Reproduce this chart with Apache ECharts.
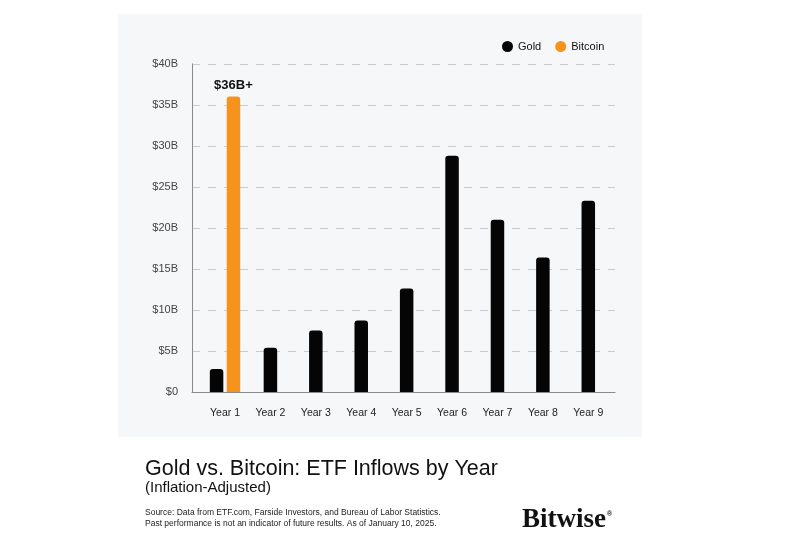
<!DOCTYPE html>
<html>
<head>
<meta charset="utf-8">
<script src="https://cdn.jsdelivr.net/npm/echarts@6/dist/echarts.min.js"></script>
<style>
html,body{margin:0;padding:0;background:#ffffff;}
#chart{width:800px;height:552px;}
</style>
</head>
<body>
<div id="chart"></div>
<script>
var categories = ['Year 1','Year 2','Year 3','Year 4','Year 5','Year 6','Year 7','Year 8','Year 9'];
var goldValues = [2.8, 5.4, 7.5, 8.7, 12.6, 28.8, 21.0, 16.4, 23.3];
var bitcoinValues = [36, null, null, null, null, null, null, null, null];
var yTickLabels = ['$0','$5B','$10B','$15B','$20B','$25B','$30B','$35B','$40B'];
var yMax = 40, yStep = 5;

var goldSingle = goldValues.map(function(v,i){ return bitcoinValues[i] == null ? v : null; });
var goldPaired = goldValues.map(function(v,i){ return bitcoinValues[i] != null ? v : null; });

var FONT = '"Liberation Sans", Arial, sans-serif';
var chart = echarts.init(document.getElementById('chart'), null, {renderer:'canvas'});

var barCommon = {
  type: 'bar',
  barWidth: 13.5,
  barGap: '25%'
};

chart.setOption({
  backgroundColor: '#ffffff',
  animation: false,
  graphic: [{
    type: 'rect', z: -10, silent: true,
    shape: { x: 118, y: 14, width: 524, height: 423 },
    style: { fill: '#f6f7f9' }
  }],
  title: [
    { text: 'Gold vs. Bitcoin: ETF Inflows by Year', left: 145, top: 458.5,
      textStyle: { fontFamily: FONT, fontSize: 21.5, fontWeight: 'normal', color: '#111' }, padding: 0 },
    { text: '(Inflation-Adjusted)', left: 145, top: 480,
      textStyle: { fontFamily: FONT, fontSize: 15, fontWeight: 'normal', color: '#111' }, padding: 0 },
    { text: 'Source: Data from ETF.com, Farside Investors, and Bureau of Labor Statistics.\nPast performance is not an indicator of future results. As of January 10, 2025.',
      left: 145, top: 507.5,
      textStyle: { fontFamily: FONT, fontSize: 8.5, fontWeight: 'normal', color: '#222', lineHeight: 10.6 }, padding: 0 },
    { text: '{a|Bitwise}{r|®}', left: 522, top: 507,
      textStyle: { rich: {
        a: { fontFamily: '"Liberation Serif", "DejaVu Serif", serif', fontSize: 27, fontWeight: 'bold', color: '#111' },
        r: { fontFamily: FONT, fontSize: 7, color: '#111', padding: [0,0,12,1] }
      } }, padding: 0 }
  ],
  legend: {
    data: ['Gold','Bitcoin'],
    left: 497, top: 36,
    icon: 'circle', itemWidth: 11, itemHeight: 11, itemGap: 14,
    textStyle: { fontFamily: FONT, fontSize: 11, color: '#111' }
  },
  grid: [
    { left: 192, right: 185, top: 63.8, bottom: 160 },
    { left: 202.3, right: 189, top: 63.8, bottom: 160 }
  ],
  xAxis: [
    { type: 'category', gridIndex: 0, data: categories,
      axisLine: { show: true, lineStyle: { color: '#8a8a8a', width: 1 } },
      axisTick: { show: false }, axisLabel: { show: false }, splitLine: { show: false } },
    { type: 'category', gridIndex: 1, data: categories,
      axisLine: { show: false }, axisTick: { show: false },
      axisLabel: { fontFamily: FONT, fontSize: 10.5, color: '#222', margin: 16 } },
    { type: 'category', gridIndex: 1, data: categories, show: false }
  ],
  yAxis: [
    { type: 'value', gridIndex: 0, min: 0, max: yMax, interval: yStep,
      axisLine: { show: true, lineStyle: { color: '#8a8a8a', width: 1 } },
      axisTick: { show: false },
      axisLabel: { fontFamily: FONT, fontSize: 11, color: '#444', margin: 14,
        formatter: function(v){ return yTickLabels[Math.round(v / yStep)]; } },
      splitLine: { show: true, lineStyle: { color: '#c9cbce', type: [8,8], width: 1 } } },
    { type: 'value', gridIndex: 1, min: 0, max: yMax, interval: yStep, show: false,
      splitLine: { show: false } }
  ],
  series: [
    Object.assign({}, barCommon, { name: 'Gold', xAxisIndex: 1, yAxisIndex: 1, data: goldSingle,
      itemStyle: { color: '#050505', borderRadius: [3,3,0,0] } }),
    Object.assign({}, barCommon, { name: 'Gold', xAxisIndex: 2, yAxisIndex: 1, data: goldPaired,
      itemStyle: { color: '#050505', borderRadius: [3,3,0,0] } }),
    Object.assign({}, barCommon, { name: 'Bitcoin', xAxisIndex: 2, yAxisIndex: 1, data: bitcoinValues,
      itemStyle: { color: '#f7931a', borderRadius: [3,3,0,0] },
      label: { show: true, position: 'top', distance: 5,
        fontFamily: FONT, fontSize: 13, fontWeight: 'bold', color: '#111',
        formatter: function(p){ return '$' + p.value + 'B+'; } } })
  ]
});
</script>
</body>
</html>
